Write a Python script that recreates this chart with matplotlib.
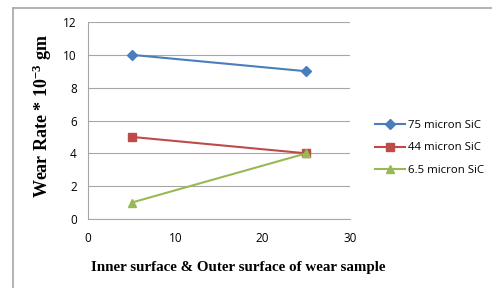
import matplotlib
matplotlib.use("Agg")
import matplotlib.pyplot as plt
from matplotlib.lines import Line2D

plt.rcParams["mathtext.fontset"] = "custom"
plt.rcParams["mathtext.rm"] = "Liberation Serif:bold"
plt.rcParams["mathtext.default"] = "rm"

x_vals = [5, 25]
s75 = [10, 9]
s44 = [5, 4]
s65 = [1, 4]
labels = ["75 micron SiC", "44 micron SiC", "6.5 micron SiC"]
colors = ["#4a7ebb", "#be4b48", "#98b954"]
markers = ["D", "s", "^"]
msizes = [5, 6, 6]

fig = plt.figure(figsize=(4.92, 2.88), dpi=100)
fig.patch.set_facecolor("white")
# outer chart frame (only left & top visible)
fig.add_artist(Line2D([13/492, 13/492], [0, 1 - 8/288], transform=fig.transFigure, color="#a6a6a6", lw=1.2))
fig.add_artist(Line2D([13/492, 1], [1 - 8/288, 1 - 8/288], transform=fig.transFigure, color="#a6a6a6", lw=1.2))

ax = fig.add_axes([88/492, 1 - 219/288, (350 - 88)/492, (219 - 22)/288])
for ys, lab, c, m, ms in zip([s75, s44, s65], labels, colors, markers, msizes):
    ax.plot(x_vals, ys, color=c, marker=m, markersize=ms, lw=1.5, label=lab)

ax.set_xlim(0, 30)
ax.set_ylim(0, 12)
ax.set_xticks([0, 10, 20, 30])
ax.set_yticks(range(0, 13, 2))
ax.grid(axis="y", color="#a6a6a6", lw=0.8)
ax.set_axisbelow(True)
for s in ["top", "right"]:
    ax.spines[s].set_visible(False)
for s in ["left", "bottom"]:
    ax.spines[s].set_color("#a6a6a6")
    ax.spines[s].set_linewidth(0.8)
ax.tick_params(length=0, labelsize=8.5, colors="#404040", labelcolor="black")
ax.tick_params(axis="x", pad=9)
ax.tick_params(axis="y", pad=8)
for t in ax.get_xticklabels() + ax.get_yticklabels():
    t.set_fontfamily("Open Sans")

fig.text(42/492, 1 - 116/288, "Wear Rate * 10$^{-3}$ gm", rotation=90, ha="center", va="center",
         fontsize=13, fontweight="bold", family="Liberation Serif")
fig.text(238/492, 1 - 267/288, "Inner surface & Outer surface of wear sample", ha="center", va="center",
         fontsize=10.8, fontweight="bold", family="Liberation Serif")

leg = ax.legend(loc="center left", bbox_to_anchor=(365/492, 1 - 148/288), bbox_transform=fig.transFigure,
                frameon=False, prop={"family": "Open Sans", "size": 8.2}, handlelength=2.6,
                handletextpad=0.3, labelspacing=1.0)
fig.savefig("out.png", dpi=100)
